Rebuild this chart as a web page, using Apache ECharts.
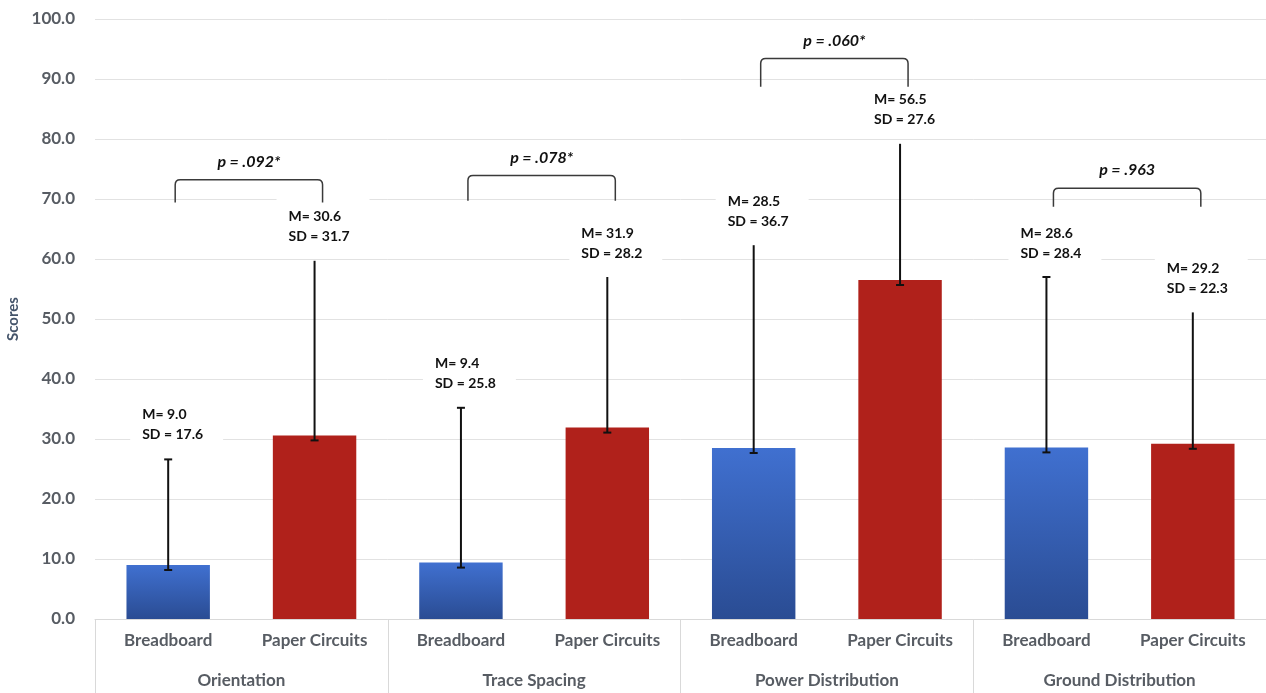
<!DOCTYPE html>
<html>
<head>
<meta charset="utf-8">
<script src="https://cdn.jsdelivr.net/npm/echarts@6/dist/echarts.min.js"></script>
<style>
html,body{margin:0;padding:0;background:#fff;}
#chart{width:1266px;height:693px;}
</style>
</head>
<body>
<div id="chart"></div>
<script>
// ---------- data ----------
var categories = ['Breadboard','Paper Circuits','Breadboard','Paper Circuits','Breadboard','Paper Circuits','Breadboard','Paper Circuits'];
var groups = ['Orientation','Trace Spacing','Power Distribution','Ground Distribution'];
var means = [9.0, 30.6, 9.4, 31.9, 28.5, 56.5, 28.6, 29.2];
var sds = [17.6, 31.7, 25.8, 28.2, 36.7, 27.6, 28.4, 22.3];
// visible end of each whisker (labels hide the rest)
var whiskerVisibleTop = [26.7, 59.7, 35.2, 57.0, 62.3, 79.2, 57.0, 51.1];
var pValues = ['p = .092*','p = .078*','p = .060*','p = .963'];
var bracketTop = [73.2, 73.9, 93.4, 71.8];
var bracketBottom = [69.4, 69.7, 88.7, 68.7];
var yTicks = [0,10,20,30,40,50,60,70,80,90,100];

// ---------- styles ----------
var FONT = 'Lato, "Open Sans", sans-serif';
var AXIS_COLOR = '#575c63';
var blueGrad = new echarts.graphic.LinearGradient(0,0,0,1,[{offset:0,color:'#4070d0'},{offset:1,color:'#2a4c93'}]);
var red = '#b0211b';

var barData = means.map(function(m,i){
  return {value:m, itemStyle:{color: i%2===0 ? blueGrad : red}};
});
var errData = means.map(function(m,i){
  var full = m + sds[i];
  var top = Math.min(full, whiskerVisibleTop[i]);
  var cap = (full - whiskerVisibleTop[i]) <= 0.3 ? 1 : 0;
  return [i, m, top, cap];
});
var labelData = means.map(function(m,i){
  return [i, whiskerVisibleTop[i], 'M= ' + m.toFixed(1) + '\nSD = ' + sds[i].toFixed(1)];
});
var bracketData = groups.map(function(g,k){
  return [2*k, 2*k+1, bracketTop[k], bracketBottom[k], k];
});

var chart = echarts.init(document.getElementById('chart'));
chart.setOption({
  animation:false,
  backgroundColor:'#fff',
  grid:{left:95,right:0,top:19,bottom:74,containLabel:false,outerBoundsMode:'none'},
  xAxis:[{
    type:'category', data:categories, position:'bottom',
    axisLine:{show:true,lineStyle:{color:'#d9d9d9',width:1}},
    axisTick:{show:false},
    axisLabel:{margin:13,color:AXIS_COLOR,fontFamily:FONT,fontWeight:'bold',fontSize:17,interval:0}
  },{
    type:'category', data:groups, position:'bottom',
    axisLine:{show:false},
    axisTick:{show:true,length:74,lineStyle:{color:'#d9d9d9',width:1}},
    axisLabel:{margin:53,color:AXIS_COLOR,fontFamily:FONT,fontWeight:'bold',fontSize:17,interval:0}
  }],
  yAxis:{
    type:'value', min:0, max:100, interval:10,
    name:'Scores', nameLocation:'middle', nameGap:66, nameRotate:90,
    nameTextStyle:{color:'#44546a',fontFamily:FONT,fontWeight:'bold',fontSize:15},
    axisLine:{show:false}, axisTick:{show:false},
    axisLabel:{margin:20,color:AXIS_COLOR,fontFamily:FONT,fontWeight:'bold',fontSize:17,
      formatter:function(v){return yTicks.indexOf(v)>=0 ? v.toFixed(1) : '';}},
    splitLine:{lineStyle:{color:'#e2e2e2',width:1}}
  },
  series:[{
    type:'bar', data:barData, barWidth:'57%', z:2
  },{
    type:'custom', data:errData, z:3, xAxisIndex:0,
    renderItem:function(params,api){
      var x = api.coord([api.value(0),0])[0];
      var yb = api.coord([0,api.value(1)])[1] + 5;
      var yt = api.coord([0,api.value(2)])[1];
      var children = [
        {type:'line',shape:{x1:x,y1:yb,x2:x,y2:yt},style:{stroke:'#111',lineWidth:2}},
        {type:'line',shape:{x1:x-4,y1:yb,x2:x+4,y2:yb},style:{stroke:'#111',lineWidth:2}}
      ];
      if (api.value(3)) children.push({type:'line',shape:{x1:x-4,y1:yt,x2:x+4,y2:yt},style:{stroke:'#111',lineWidth:2}});
      return {type:'group',children:children};
    }
  },{
    type:'custom', data:labelData, z:4, xAxisIndex:0,
    renderItem:function(params,api){
      var x = api.coord([api.value(0),0])[0];
      var y = api.coord([0,api.value(1)])[1] - 34;
      return {type:'text', x:x-38, y:y, z2:10, style:{
        text: labelData[params.dataIndex][2],
        fill:'#111', font:'bold 14px ' + FONT, lineHeight:20,
        align:'left', verticalAlign:'middle',
        backgroundColor:'#fff', padding:[4,20,14,12]
      }};
    }
  },{
    type:'custom', data:bracketData, z:5, xAxisIndex:0,
    renderItem:function(params,api){
      var x1 = api.coord([api.value(0),0])[0] + 7;
      var x2 = api.coord([api.value(1),0])[0] + 8;
      var yt = api.coord([0,api.value(2)])[1];
      var yb = api.coord([0,api.value(3)])[1];
      var r = 5;
      var d = 'M'+x1+' '+yb+' L'+x1+' '+(yt+r)+' Q'+x1+' '+yt+' '+(x1+r)+' '+yt+
              ' L'+(x2-r)+' '+yt+' Q'+x2+' '+yt+' '+x2+' '+(yt+r)+' L'+x2+' '+yb;
      return {type:'group',children:[
        {type:'path',shape:{pathData:d},style:{stroke:'#3a3a3a',lineWidth:1.5,fill:null}},
        {type:'text',x:(x1+x2)/2,y:yt-18,style:{
          text:pValues[api.value(4)],fill:'#111',
          font:'italic bold 16px ' + FONT, align:'center', verticalAlign:'middle'}}
      ]};
    }
  }]
});
</script>
</body>
</html>
